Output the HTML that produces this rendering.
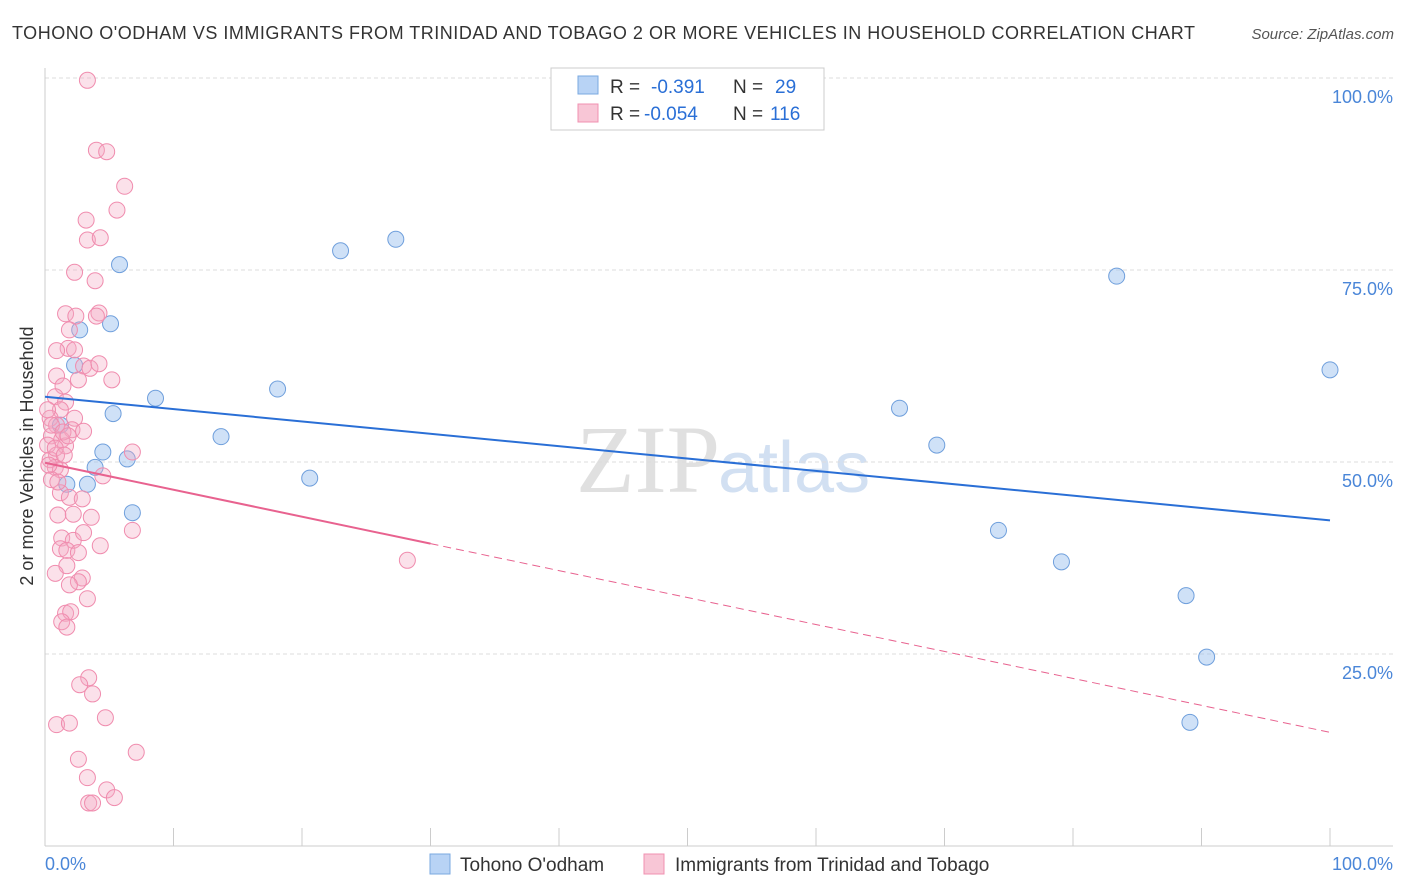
<!DOCTYPE html>
<html><head><meta charset="utf-8"><style>
body{margin:0;background:#fff;font-family:"Liberation Sans",sans-serif;}
#wrap{position:relative;width:1406px;height:892px;overflow:hidden;}
</style></head><body>
<div id="wrap">
<svg id="svg" width="1406" height="892" xmlns="http://www.w3.org/2000/svg">
<text x="12" y="39" font-size="18" fill="#333" textLength="1183" lengthAdjust="spacing">TOHONO O'ODHAM VS IMMIGRANTS FROM TRINIDAD AND TOBAGO 2 OR MORE VEHICLES IN HOUSEHOLD CORRELATION CHART</text>
<text x="1394" y="39" font-size="15" fill="#555" font-style="italic" text-anchor="end">Source: ZipAtlas.com</text>
<text x="720" y="492" font-size="96" fill="#e0e0e0" text-anchor="end" font-family="Liberation Serif">ZIP</text>
<text x="718" y="492" font-size="72" fill="#d2e0f2">atlas</text>
<text transform="translate(33,456) rotate(-90)" font-size="18" fill="#333" text-anchor="middle">2 or more Vehicles in Household</text>
<g id="grid"></g><g id="marks"></g>
<g>
<rect x="551" y="68" width="273" height="62" fill="#fff" stroke="#ccc"/>
<rect x="578" y="76" width="20" height="18" fill="#b8d3f5" stroke="#7aa8e0"/>
<rect x="578" y="104" width="20" height="18" fill="#f8c6d6" stroke="#f090b0"/>
<text x="610" y="93" font-size="19" fill="#333">R = </text><text x="651" y="93" font-size="19" fill="#2a6fd6">-0.391</text>
<text x="733" y="93" font-size="19" fill="#333">N = </text><text x="775" y="93" font-size="19" fill="#2a6fd6">29</text>
<text x="610" y="120" font-size="19" fill="#333">R = </text><text x="644" y="120" font-size="19" fill="#2a6fd6">-0.054</text>
<text x="733" y="120" font-size="19" fill="#333">N = </text><text x="770" y="120" font-size="19" fill="#2a6fd6">116</text>
</g>
<g>
<rect x="430" y="854" width="20" height="20" fill="#b8d3f5" stroke="#7aa8e0"/>
<text x="460" y="871" font-size="19" fill="#333">Tohono O'odham</text>
<rect x="644" y="854" width="20" height="20" fill="#f8c6d6" stroke="#f090b0"/>
<text x="675" y="871" font-size="19" fill="#333">Immigrants from Trinidad and Tobago</text>
</g>
<text x="45" y="870" font-size="18" fill="#4a86d8">0.0%</text>
<text x="1393" y="870" font-size="18" fill="#4a86d8" text-anchor="end">100.0%</text>
</svg>
</div>
<script>
const yTicks=[100,75,50,25];
const yTickLabels=["100.0%","75.0%","50.0%","25.0%"];
const blueX=[5.8,2.7,5.1,2.3,5.3,8.6,4.5,6.4,3.9,1.7,3.3,6.8,1.2,13.7,18.1,20.6,23.0,27.3,66.5,69.4,74.2,79.1,83.4,88.8,90.4,89.1,100];
const blueY=[75.7,67.2,68.0,62.6,56.3,58.3,51.3,50.4,49.3,47.1,47.1,43.4,54.8,53.3,59.5,47.9,77.5,79.0,57.0,52.2,41.1,37.0,74.2,32.6,24.6,16.1,62.0];
const pinkX=[3.3,4.0,4.8,6.2,5.6,3.2,3.3,4.3,2.3,3.9,1.6,2.4,4.2,4.0,1.9,1.8,0.9,2.3,3.0,3.5,4.2,5.2,0.9,2.6,1.4,0.8,1.6,1.2,2.3,0.4,0.9,2.1,3.0,0.5,1.3,0.2,1.6,0.9,0.4,0.8,1.2,6.8,4.5,0.5,1.2,1.9,2.9,1.0,2.2,3.6,1.3,2.2,3.0,4.3,1.2,1.7,2.6,1.7,0.8,2.9,2.6,1.9,3.3,1.6,2.0,1.3,1.7,6.8,28.2,3.4,2.7,3.7,4.7,0.9,1.9,7.1,2.6,3.3,4.8,5.4,3.4,3.7,0.2,0.5,1.4,1.8,0.8,0.3,1.5,1.0];
const pinkY=[99.7,90.6,90.4,85.9,82.8,81.5,78.9,79.2,74.7,73.6,69.3,69.0,69.4,69.0,67.2,64.8,64.5,64.6,62.5,62.2,62.8,60.7,61.2,60.7,59.9,58.5,57.8,56.8,55.7,55.7,54.8,54.2,54.0,53.4,52.9,52.2,52.1,50.9,50.3,49.3,49.0,51.3,48.2,47.7,46.0,45.4,45.2,43.1,43.2,42.8,40.1,39.8,40.8,39.1,38.7,38.5,38.2,36.5,35.5,34.9,34.4,34.0,32.2,30.3,30.5,29.2,28.5,41.1,37.2,21.9,21.0,19.8,16.7,15.8,16.0,12.2,11.3,8.9,7.3,6.3,5.6,5.6,56.8,54.8,53.9,53.4,51.8,49.6,50.9,47.4];
const blueTrend=[58.5,42.4];
const pinkTrend=[49.9,14.8];
const pinkSolidEnd=30;
const NS="http://www.w3.org/2000/svg";
const X=v=>45+v*12.85, Y=v=>846-v*7.68;
function mk(t,a,p){const e=document.createElementNS(NS,t);for(const k in a)e.setAttribute(k,a[k]);p.appendChild(e);return e;}
const grid=document.getElementById('grid'), marks=document.getElementById('marks');
yTicks.forEach((t,i)=>{
  const l=mk('line',{x1:45,x2:1393,y1:Y(t),y2:Y(t),stroke:'#ddd','stroke-dasharray':'4,3'},grid);
  
  
  const tx=mk('text',{x:1393,y:Y(t)+25,'font-size':18,fill:'#4a86d8','text-anchor':'end'},grid);
  tx.textContent=yTickLabels[i];
  
  
});
mk('line',{x1:45,x2:45,y1:68,y2:846,stroke:'#ccc'},grid);
mk('line',{x1:45,x2:1393,y1:846,y2:846,stroke:'#ccc'},grid);
for(let i=0;i<=10;i++){const t=mk('line',{x1:X(i*10),x2:X(i*10),y1:828,y2:846,stroke:'#ccc'},grid);
  
  }
blueX.forEach((v,i)=>{const c=mk('circle',{cx:X(v),cy:Y(blueY[i]),r:8,fill:'rgba(160,196,240,0.5)',stroke:'#6f9fdc','stroke-width':1},marks);
  
  });
pinkX.forEach((v,i)=>{const c=mk('circle',{cx:X(v),cy:Y(pinkY[i]),r:8,fill:'rgba(244,170,195,0.35)',stroke:'#f08cae','stroke-width':1},marks);
  
  });
const bl=mk('line',{x1:X(0),y1:Y(blueTrend[0]),x2:X(100),y2:Y(blueTrend[1]),stroke:'#2a6fd6','stroke-width':2},marks);


const pm=v=>pinkTrend[0]+(pinkTrend[1]-pinkTrend[0])*v/100;
const pl=mk('line',{x1:X(0),y1:Y(pm(0)),x2:X(pinkSolidEnd),y2:Y(pm(pinkSolidEnd)),stroke:'#e8628f','stroke-width':2},marks);


const pd=mk('line',{x1:X(pinkSolidEnd),y1:Y(pm(pinkSolidEnd)),x2:X(100),y2:Y(pm(100)),stroke:'#e8628f','stroke-width':1,'stroke-dasharray':'8,5'},marks);


</script>
</body></html>
